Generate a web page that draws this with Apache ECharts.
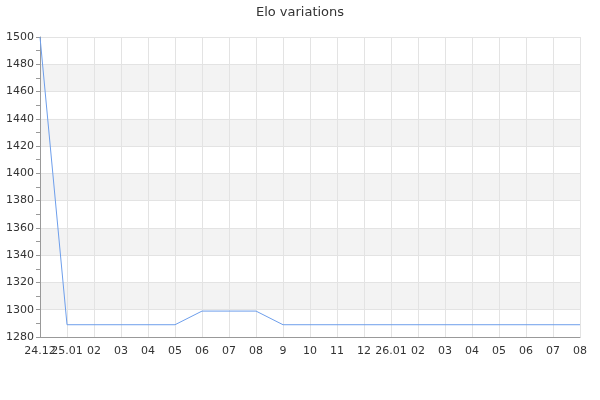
<!DOCTYPE html>
<html><head><meta charset="utf-8">
<script src="https://cdn.jsdelivr.net/npm/echarts@6/dist/echarts.min.js"></script>
<style>html,body{margin:0;padding:0;background:#fff}#c{width:600px;height:400px}</style>
</head><body><div id="c"></div>
<script>
const categories = ["24.12","25.01","02","03","04","05","06","07","08","9","10","11","12","26.01","02","03","04","05","06","07","08"];
const eloValues = [1500,1289,1289,1289,1289,1289,1299,1299,1299,1289,1289,1289,1289,1289,1289,1289,1289,1289,1289,1289,1289];
const yTicks = {min:1280, max:1500, interval:20};

const chart = echarts.init(document.getElementById('c'), null, {renderer:'canvas'});
const font = 'DejaVu Sans';
chart.setOption({
  animation:false,
  textStyle:{fontFamily:font},
  title:{text:'Elo variations', left:'center', top:1, textStyle:{fontFamily:font, fontSize:13, fontWeight:'normal', color:'#333'}},
  grid:{left:40, right:20, top:37, bottom:63, containLabel:false},
  xAxis:{
    type:'category', data:categories, boundaryGap:false,
    axisLine:{lineStyle:{color:'#999'}},
    axisTick:{show:false},
    axisLabel:{color:'#333', fontSize:11, fontFamily:font, interval:0, margin:9},
    splitLine:{show:true, lineStyle:{color:'#e3e3e3'}}
  },
  yAxis:{
    type:'value', min:yTicks.min, max:yTicks.max, interval:yTicks.interval,
    axisLine:{show:true, lineStyle:{color:'#999'}},
    axisTick:{show:true, length:4, lineStyle:{color:'#999'}},
    minorTick:{show:true, splitNumber:2, length:4, lineStyle:{color:'#999'}},
    axisLabel:{color:'#333', fontSize:11, fontFamily:font, margin:6, formatter:function(v){return String(v);}},
    splitLine:{show:true, lineStyle:{color:'#e3e3e3'}},
    splitArea:{show:true, areaStyle:{color:['#ffffff','#f3f3f3']}}
  },
  series:[{type:'line', data:eloValues, symbol:'none', lineStyle:{color:'#6d9eeb', width:1}}]
});
</script></body></html>
